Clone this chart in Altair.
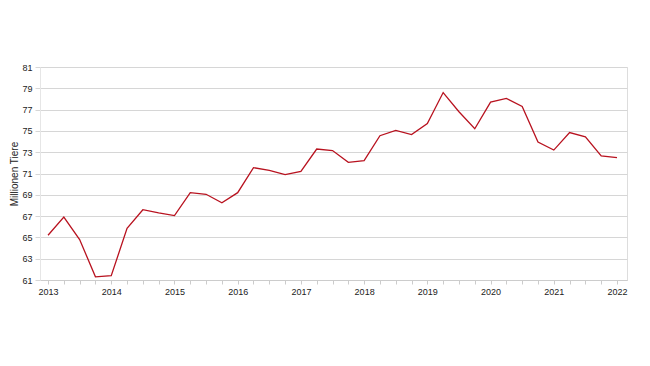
import altair as alt
import pandas as pd

# Quarterly time points (decimal years)
quarters = [
    2013.00, 2013.25, 2013.50, 2013.75,
    2014.00, 2014.25, 2014.50, 2014.75,
    2015.00, 2015.25, 2015.50, 2015.75,
    2016.00, 2016.25, 2016.50, 2016.75,
    2017.00, 2017.25, 2017.50, 2017.75,
    2018.00, 2018.25, 2018.50, 2018.75,
    2019.00, 2019.25, 2019.50, 2019.75,
    2020.00, 2020.25, 2020.50, 2020.75,
    2021.00, 2021.25, 2021.50, 2021.75,
    2022.00,
]

# Millionen Tiere
values = [
    65.2, 66.9, 64.8, 61.3,
    61.4, 65.85, 67.6, 67.3,
    67.05, 69.2, 69.05, 68.25,
    69.2, 71.55, 71.3, 70.9,
    71.2, 73.3, 73.15, 72.05,
    72.2, 74.55, 75.05, 74.65,
    75.7, 78.6, 76.8, 75.2,
    77.7, 78.05, 77.3, 73.95,
    73.2, 74.85, 74.45, 72.65,
    72.5,
]

y_ticks = [61, 63, 65, 67, 69, 71, 73, 75, 77, 79, 81]

df = pd.DataFrame({"t": quarters, "v": values})

font = "Liberation Sans"

chart = (
    alt.Chart(df)
    .mark_line(color="#b8121f", strokeWidth=1.3)
    .encode(
        x=alt.X(
            "t:Q",
            scale=alt.Scale(domain=[2012.873, 2022.158], nice=False, zero=False),
            axis=alt.Axis(
                title=None,
                values=quarters,
                labelExpr="datum.value % 1 == 0 ? format(datum.value, 'd') : ''",
                grid=False,
                tickSize=4,
                tickColor="#cccccc",
                domainColor="#cccccc",
                labelFont=font,
                labelFontSize=9,
                labelColor="#222222",
                labelPadding=3,
                labelFlush=False,
                labelOverlap=False,
            ),
        ),
        y=alt.Y(
            "v:Q",
            scale=alt.Scale(domain=[61, 81], nice=False, zero=False),
            axis=alt.Axis(
                title="Millionen Tiere",
                values=y_ticks,
                format="d",
                grid=True,
                gridColor="#d6d6d6",
                gridWidth=1,
                tickSize=5,
                tickColor="#d6d6d6",
                domainColor="#e6e6e6",
                labelFont=font,
                labelFontSize=9,
                labelColor="#222222",
                labelPadding=3,
                titleFont=font,
                titleFontSize=10,
                titleFontWeight="normal",
                titleColor="#222222",
                titlePadding=2,
            ),
        ),
    )
    .properties(
        width=587,
        height=213,
        autosize=alt.AutoSizeParams(type="none"),
        padding={"left": 32, "top": 59, "right": 15, "bottom": 50},
    )
    .configure_view(stroke=None)
    .configure(background="white")
)

chart.save("out.html", embed_options={"renderer": "svg", "actions": False})
